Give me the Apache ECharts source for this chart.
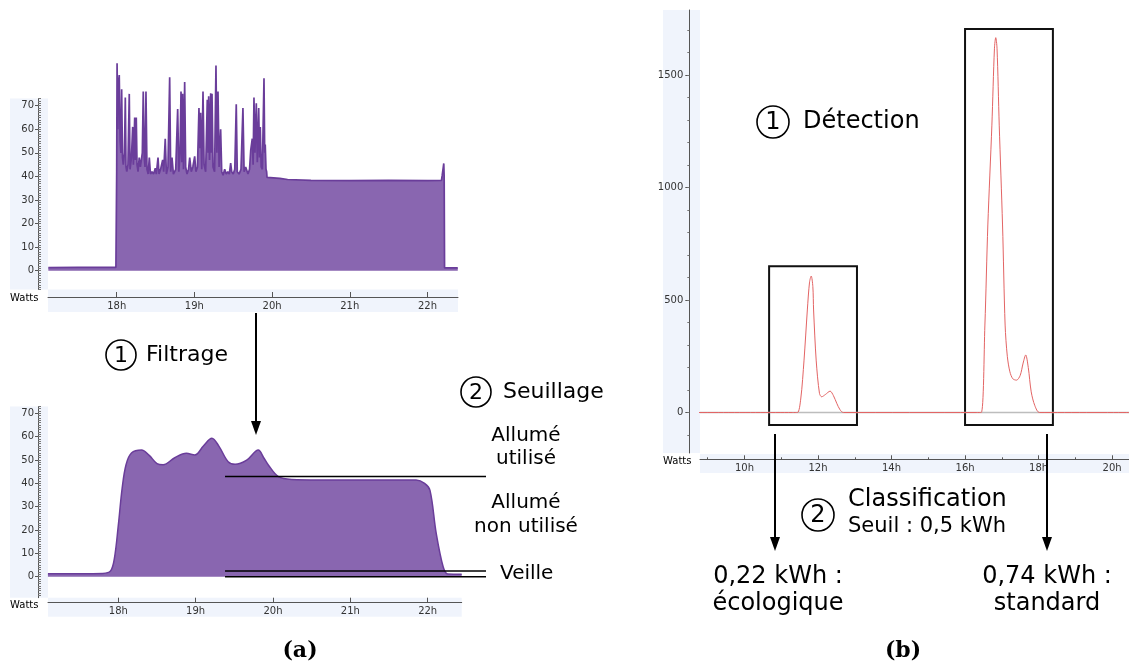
<!DOCTYPE html>
<html><head><meta charset="utf-8">
<script src="https://cdn.jsdelivr.net/npm/echarts@6/dist/echarts.min.js"></script>
<style>html,body{margin:0;padding:0;background:#fff}#c{width:1129px;height:666px}</style>
</head><body><div id="c"></div>
<script>
// ---------- DATA ----------
// (a) top: raw power (hour, watts)
const rawPower = [
[17.12,1.3],[17.5,1.4],[17.99,1.4],
[18.0,42],[18.005,88],[18.015,60],[18.025,80],[18.033,83],[18.045,55],[18.055,50],[18.064,77],[18.075,48],[18.085,45],[18.1,50],[18.111,73.5],[18.12,44],[18.13,42],[18.145,45],[18.162,75],[18.172,43],[18.19,48],[18.206,61],[18.215,45],[18.232,65],[18.24,47],[18.252,65],[18.262,45],[18.275,42],[18.29,48],[18.305,44],[18.33,50],[18.342,76],[18.355,48],[18.365,44],[18.377,76],[18.39,43],[18.405,41],[18.42,48],[18.435,41],[18.455,42],[18.475,41],[18.497,43.5],[18.51,41],[18.532,48],[18.545,41],[18.565,43],[18.592,47],[18.605,42],[18.625,56],[18.64,41],[18.66,44],[18.682,82],[18.695,42],[18.712,48],[18.73,41],[18.76,43],[18.785,68.6],[18.8,42],[18.815,50],[18.828,76],[18.838,46],[18.849,75],[18.86,43],[18.875,80],[18.888,44],[18.905,41],[18.925,43],[18.94,48],[18.96,42],[18.98,44],[19.004,48.5],[19.02,42],[19.04,44],[19.059,69],[19.07,52],[19.081,67],[19.095,43],[19.111,76],[19.125,45],[19.145,42],[19.166,72.5],[19.175,50],[19.184,74],[19.195,47],[19.21,75.3],[19.218,50],[19.227,75],[19.24,44],[19.26,42],[19.278,87],[19.29,50],[19.304,76],[19.318,44],[19.338,60],[19.352,42],[19.37,40.5],[19.39,43],[19.41,41],[19.43,42],[19.45,41],[19.467,45.6],[19.48,42],[19.5,41],[19.52,43],[19.539,70.6],[19.552,42],[19.575,41],[19.6,43],[19.625,69],[19.64,42],[19.66,44],[19.69,41],[19.71,43],[19.725,51],[19.745,56],[19.756,45],[19.767,73.5],[19.78,50],[19.797,71],[19.81,46],[19.828,69],[19.838,48],[19.848,61],[19.86,44],[19.875,43],[19.896,81.6],[19.905,50],[19.912,53.5],[19.922,43],[19.93,42],[19.935,39.6],[20.1,39.2],[20.2,38.7],[20.5,38.3],[21.0,38.2],[21.5,38.3],[22.0,38.2],[22.18,38.3],[22.19,40.5],[22.205,41],[22.21,45.5],[22.215,40],[22.22,1.2],[22.39,1.2]
];
// (a) bottom: filtered power (hour, watts)
const filteredPower = [
[17.09,1.3],[17.5,1.3],[17.8,1.4],[17.9,2.5],[17.95,8],[18.0,22],[18.05,38],[18.1,48],[18.17,53],[18.3,54.3],[18.4,52],[18.5,48.5],[18.58,48],[18.73,51],[18.88,52.9],[18.99,52.2],[19.1,56],[19.21,59.3],[19.3,56],[19.42,49.3],[19.51,48.2],[19.66,50],[19.81,54.3],[19.88,51],[19.94,47.9],[20.07,42.9],[20.24,41.7],[20.6,41.5],[21.0,41.5],[21.5,41.5],[21.85,41.4],[21.96,40],[22.03,37],[22.11,18.7],[22.2,4.3],[22.26,1.2],[22.44,1.1]
];
// thresholds (watts) drawn from 19.38h
const thresholds = [42.9, 2.4, 0];
const thresholdStart = 19.38;
// (b) detection signal (hour, watts)
const detection = [
[7.78,0],[11.3,0],[11.44,0],[11.53,60],[11.62,233],[11.71,456],[11.77,580],[11.815,607],[11.86,560],[11.88,456],[11.95,233],[12.04,85],[12.1,70],[12.2,80],[12.33,95],[12.42,75],[12.51,41],[12.6,12],[12.69,0],[16.3,0],[16.44,0],[16.54,389],[16.62,834],[16.73,1278],[16.8,1620],[16.835,1667],[16.87,1620],[16.93,1278],[17.02,834],[17.09,389],[17.15,250],[17.22,181],[17.3,150],[17.4,144],[17.5,165],[17.58,220],[17.65,256],[17.72,200],[17.8,92],[17.9,30],[18.03,0],[20.46,0]
];
const baseline = [[8.79,0],[20.46,0]];
// detection windows [startH, endH, lowW, highW]
const windows = [[10.67, 13.06, -55, 650], [16.0, 18.39, -55, 1705]];

// ticks
const hourTicksA = [18,19,20,21,22];
const hourTicksB = [10,12,14,16,18,20];
const hourMinorB = [9,11,13,15,17,19];
const wattTicksA = [0,10,20,30,40,50,60,70];
const wattMinorA = []; for (let v=-8; v<=73; v++) wattMinorA.push(v);
const wattTicksB = [0,500,1000,1500];
const wattMinorB = []; for (let v=-100; v<=1700; v+=100) wattMinorB.push(v);

// ---------- LAYOUT ----------
const G0 = {left:48, top:98.6, width:410, height:191};
const G1 = {left:48, top:406.4, width:413.7, height:191.3};
const G2 = {left:700, top:10, width:429, height:443};
const FONT = '"DejaVu Sans", Verdana, sans-serif';
const STRIP = '#f0f4fc';
const axisTxt = {color:'#333', fontSize:10, fontFamily:FONT};

function yMajor(grid, min, max, ticks, len, margin){
  return {type:'value', gridIndex:grid, min, max, position:'left', offset: grid===2?10.7:10,
    axisLine:{show:true, onZero:false, lineStyle:{color:'#555', width:1}},
    axisTick:{show:true, customValues:ticks, length:len, lineStyle:{color:'#555'}},
    axisLabel:{show:true, customValues:ticks, margin, formatter:v=>String(v), ...axisTxt},
    splitLine:{show:false}};
}
function yMinor(grid, min, max, ticks, len, inside){
  return {type:'value', gridIndex:grid, min, max, position:'left', offset: grid===2?10.7:10,
    axisLine:{show:false, onZero:false},
    axisTick:{show:true, inside, customValues:ticks, length:len, lineStyle:{color:'#777'}},
    axisLabel:{show:false}, splitLine:{show:false}};
}
function xAx(grid, min, max, ticks, offset, len, labels){
  return {type:'value', gridIndex:grid, min, max, position:'bottom', offset,
    axisLine:{show:labels, onZero:false, lineStyle:{color:'#555', width:1}},
    axisTick:{show:true, inside:true, customValues:ticks, length:len, lineStyle:{color:'#555'}},
    axisLabel:{show:labels, customValues:ticks, margin:4, formatter:v=>v+'h', ...axisTxt},
    splitLine:{show:false}};
}

const chart = echarts.init(document.getElementById('c'), null, {renderer:'canvas'});
const PURPLE_LINE = '#6a3d9a', PURPLE_FILL = '#8966b0';

chart.setOption({
  animation:false,
  backgroundColor:'#fff',
  grid:[
    {left:G0.left, top:G0.top, width:G0.width, height:G0.height},
    {left:G1.left, top:G1.top, width:G1.width, height:G1.height},
    {left:G2.left, top:G2.top, width:G2.width, height:G2.height}
  ],
  xAxis:[
    xAx(0, 17.116, 22.393, hourTicksA, 7.4, 5, true),
    xAx(1, 17.091, 22.44, hourTicksA, 5, 5, true),
    xAx(2, 8.79, 20.46, hourTicksB, 6.3, 4, true),
    xAx(2, 8.79, 20.46, hourMinorB, 6.3, 2, false)
  ],
  yAxis:[
    yMajor(0, -8, 73, wattTicksA, 3, 4),
    yMinor(0, -8, 73, wattMinorA, 3, true),
    yMajor(1, -9, 73, wattTicksA, 3, 4),
    yMinor(1, -9, 73, wattMinorA, 3, true),
    yMajor(2, -180, 1790, wattTicksB, 4, 6),
    yMinor(2, -180, 1790, wattMinorB, 2, false)
  ],
  series:[
    {type:'line', xAxisIndex:0, yAxisIndex:0, data:rawPower, symbol:'none', clip:false,
      lineStyle:{color:PURPLE_LINE, width:1.7}, areaStyle:{color:PURPLE_FILL, opacity:1}, z:3},
    {type:'line', xAxisIndex:1, yAxisIndex:2, data:filteredPower, symbol:'none', smooth:0.35,
      lineStyle:{color:PURPLE_LINE, width:1.5}, areaStyle:{color:PURPLE_FILL, opacity:1}, z:3},
    {type:'line', xAxisIndex:2, yAxisIndex:4, data:baseline, symbol:'none',
      lineStyle:{color:'#bdbdbd', width:1.5}, z:2},
    {type:'line', xAxisIndex:2, yAxisIndex:4, data:detection, symbol:'none', smooth:0.3, clip:false,
      lineStyle:{color:'#e36464', width:1}, z:3,
      markArea:{silent:true, itemStyle:{color:'rgba(0,0,0,0)', borderColor:'#111', borderWidth:2},
        data: windows.map(w=>[{coord:[w[0], w[3]]},{coord:[w[1], w[2]]}])}}
  ]
});

// ---------- ANNOTATIONS ----------
const els = [];
function rect(x,y,w,h){ els.push({type:'rect', z:-10, shape:{x,y,width:w,height:h}, style:{fill:STRIP}}); }
rect(10, G0.top, 38, G0.height); rect(G0.left, G0.top+G0.height, G0.width, 22.4);
rect(10, G1.top, 38, G1.height); rect(G1.left, G1.top+G1.height, G1.width, 19);
rect(663, G2.top, 37, G2.height); rect(G2.left, 454, G2.width, 19);

function txt(x,y,s,size,align,extra){
  els.push({type:'text', z:100, x, y, style:Object.assign({text:s, font:(extra||'')+' '+size+'px '+FONT, fill:'#000',
    textAlign:align||'left', textVerticalAlign:'middle', align:align||'left', verticalAlign:'middle'})});
}
function circ(cx,cy,r,num,size){
  els.push({type:'circle', z:100, shape:{cx,cy,r}, style:{fill:'none', stroke:'#000', lineWidth:1.6}});
  txt(cx, cy+1, num, size, 'center');
}
function arrow(x,y1,y2){
  els.push({type:'line', z:100, shape:{x1:x,y1:y1,x2:x,y2:y2-10}, style:{stroke:'#000', lineWidth:2}});
  els.push({type:'polygon', z:100, shape:{points:[[x-5,y2-14],[x+5,y2-14],[x,y2]]}, style:{fill:'#000'}});
}
function hline(x1,x2,y){
  els.push({type:'line', z:100, shape:{x1,y1:y,x2,y2:y}, style:{stroke:'#000', lineWidth:1.5}});
}
// Watts labels
txt(10, 298, 'Watts', 10); txt(10, 605, 'Watts', 10); txt(663, 461, 'Watts', 10);
// thresholds
thresholds.forEach(t=>{
  const p = chart.convertToPixel({xAxisIndex:1, yAxisIndex:2}, [thresholdStart, t]);
  hline(p[0], 486, p[1]);
});
// left annotations
arrow(256, 313, 435);
circ(121, 355, 15, '1', 22); txt(146, 355, 'Filtrage', 22);
circ(476, 392, 15, '2', 22); txt(503, 392, 'Seuillage', 22);
txt(526, 436, 'Allumé', 20, 'center'); txt(526, 459, 'utilisé', 20, 'center');
txt(526, 503, 'Allumé', 20, 'center'); txt(526, 527, 'non utilisé', 20, 'center');
txt(500, 574, 'Veille', 20);
// right annotations
circ(773, 122, 16, '1', 24); txt(803, 122, 'Détection', 24);
arrow(775, 434, 551); arrow(1047, 434, 551);
circ(818, 515, 16, '2', 24); txt(848, 500, 'Classification', 24); txt(848, 527, 'Seuil : 0,5 kWh', 21);
txt(778, 577, '0,22 kWh :', 24, 'center'); txt(778, 604, 'écologique', 24, 'center');
txt(1047, 577, '0,74 kWh :', 24, 'center'); txt(1047, 604, 'standard', 24, 'center');
// captions
els.push({type:'text', z:100, x:300, y:651, style:{text:'(a)', font:'bold 22px "DejaVu Serif", serif', fill:'#000', textAlign:'center', textVerticalAlign:'middle', align:'center', verticalAlign:'middle'}});
els.push({type:'text', z:100, x:903, y:651, style:{text:'(b)', font:'bold 22px "DejaVu Serif", serif', fill:'#000', textAlign:'center', textVerticalAlign:'middle', align:'center', verticalAlign:'middle'}});

chart.setOption({graphic:{elements:els}});
</script>
</body></html>
